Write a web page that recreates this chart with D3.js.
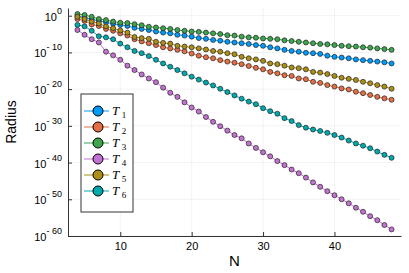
<!DOCTYPE html>
<html>
<head>
<meta charset="utf-8">
<script src="https://cdn.jsdelivr.net/npm/d3@7"></script>
<style>
  body { margin: 0; background: #fff; }
  svg { display: block; font-family: "Liberation Sans", Arial, sans-serif; }
</style>
</head>
<body>
<svg width="409" height="273"></svg>
<script>
// N values and log10(radius) for each series
const N = [4,5,6,7,8,9,10,11,12,13,14,15,16,17,18,19,20,21,22,23,24,25,26,27,28,29,30,
  31,32,33,34,35,36,37,38,39,40,41,42,43,44,45,46,47,48]
const T1 = [-0.1,-0.5,-1.0,-1.4,-1.8,-2.2,-2.5,-2.8,-3.3,-3.6,-3.9,-4.3,-4.6,-4.8,-5.2,-5.4,-5.7,
  -6.1,-6.3,-6.6,-6.8,-7.1,-7.3,-7.5,-7.7,-8.0,-8.2,-8.6,-8.9,-9.3,-9.6,-9.8,-10.1,-10.2,-10.4,
  -10.9,-11.2,-11.4,-11.6,-11.9,-12.1,-12.3,-12.5,-12.7,-13.0]
const T2 = [-0.9,-1.4,-2.4,-2.8,-3.6,-4.1,-4.8,-5.4,-6.4,-7.0,-7.5,-8.0,-8.6,-8.9,-9.3,-9.7,-10.3,
  -10.9,-11.3,-11.6,-12.1,-12.5,-12.8,-13.2,-13.7,-14.2,-14.6,-15.3,-15.7,-16.2,-16.4,-17.1,-17.3,
  -18.0,-18.3,-18.9,-19.3,-19.8,-20.1,-20.7,-21.1,-21.6,-22.1,-22.5,-22.9]
const T3 = [0.45,0.2,-0.3,-0.9,-1.2,-1.6,-1.9,-2.0,-2.3,-2.6,-3.0,-3.2,-3.4,-3.6,-3.9,-4.1,-4.3,
  -4.4,-4.6,-4.8,-5.0,-5.3,-5.4,-5.7,-5.9,-6.0,-6.2,-6.3,-6.4,-6.7,-6.9,-7.1,-7.3,-7.5,-7.7,
  -7.8,-8.0,-8.2,-8.3,-8.4,-8.6,-8.7,-8.9,-9.1,-9.3]
const T4 = [-3.9,-5.2,-6.4,-7.3,-9.8,-10.8,-12.0,-13.6,-14.8,-16.0,-17.1,-18.1,-19.6,-21.0,-22.1,
  -23.6,-25.0,-26.1,-27.6,-28.9,-30.1,-31.3,-32.5,-33.4,-34.8,-36.0,-37.2,-38.3,-39.6,-40.7,
  -41.9,-42.9,-44.1,-45.4,-46.6,-47.8,-48.9,-50.0,-51.1,-52.3,-53.4,-54.6,-55.7,-57.0,-58.2]
const T5 = [-0.3,-0.9,-1.6,-2.1,-2.9,-3.4,-4.0,-4.6,-5.8,-6.1,-6.3,-7.1,-7.4,-7.6,-8.2,-8.4,-8.6,
  -8.9,-9.2,-9.6,-9.8,-10.2,-10.5,-11.2,-11.6,-11.9,-12.3,-13.0,-13.2,-13.6,-14.1,-14.3,-14.6,
  -15.3,-15.5,-15.9,-16.4,-16.9,-17.2,-17.5,-18.0,-18.4,-18.9,-19.3,-19.9]
const T6 = [-2.5,-2.9,-4.1,-5.6,-5.9,-6.4,-7.6,-8.6,-9.6,-10.2,-11.0,-12.0,-13.0,-13.9,-14.8,-15.7,
  -16.6,-17.4,-18.2,-19.0,-19.9,-20.8,-21.7,-22.6,-23.4,-24.1,-25.2,-26.0,-26.7,-27.9,-28.7,
  -29.8,-30.5,-31.0,-31.4,-31.9,-32.5,-33.2,-34.0,-34.8,-35.4,-36.1,-37.0,-37.9,-38.7]
const seriesNames = ["1","2","3","4","5","6"]
const seriesValues = [T1, T2, T3, T4, T5, T6]
const colors = ["#009AFA","#E36F47","#3EA44E","#C371D2","#AC8E18","#00A9AD"]
const xTicks = [10, 20, 30, 40]
const yTickExps = [0, -10, -20, -30, -40, -50, -60]

const svg = d3.select("svg")
const margin = {top: 8, right: 8, bottom: 37, left: 68}
const width = +svg.attr("width")
const height = +svg.attr("height")
const innerWidth = width - margin.left - margin.right
const innerHeight = height - margin.top - margin.bottom

const xScale = d3.scaleLinear()
  .domain([2.68, 49.32])
  .range([0, innerWidth])

const yScale = d3.scaleLog()
  .domain([1e-60, Math.pow(10, 2.1)])
  .range([innerHeight, 0])

const g = svg.append("g")
  .attr("transform", `translate(${margin.left}, ${margin.top})`)

// grid
g.append("g").selectAll("line").data(xTicks)
  .enter().append("line")
  .attr("x1", d => xScale(d)).attr("x2", d => xScale(d))
  .attr("y1", 0).attr("y2", innerHeight)
  .attr("stroke", "#000").attr("stroke-opacity", 0.1).attr("stroke-width", 0.5)
g.append("g").selectAll("line").data(yTickExps)
  .enter().append("line")
  .attr("x1", 0).attr("x2", innerWidth)
  .attr("y1", d => yScale(Math.pow(10, d))).attr("y2", d => yScale(Math.pow(10, d)))
  .attr("stroke", "#000").attr("stroke-opacity", 0.1).attr("stroke-width", 0.5)

// axes
const xAxis = d3.axisBottom(xScale)
  .tickValues(xTicks)
  .tickSize(-4)
  .tickPadding(6)
  .tickSizeOuter(0)
const xAxisG = g.append("g")
  .attr("transform", `translate(0, ${innerHeight})`)
  .call(xAxis)
xAxisG.selectAll("text")
  .attr("font-size", 11).attr("fill", "#000")
  .attr("font-family", "Liberation Sans, Arial, sans-serif")
xAxisG.selectAll("line, path").attr("stroke", "#333").attr("stroke-width", 1)

const yAxis = d3.axisLeft(yScale)
  .tickValues(yTickExps.map(e => Math.pow(10, e)))
  .tickSize(-4)
  .tickSizeOuter(0)
  .tickFormat(() => "")
const yAxisG = g.append("g").call(yAxis)
yAxisG.selectAll("line, path").attr("stroke", "#333").attr("stroke-width", 1)
yAxisG.selectAll(".tick text").remove()

// y tick labels: "10" with a raised exponent
const yLabels = g.append("g")
yTickExps.forEach(e => {
  const y = yScale(Math.pow(10, e))
  const t = yLabels.append("text")
    .attr("x", -6).attr("y", y + 5)
    .attr("text-anchor", "end")
    .attr("font-size", 11)
  t.append("tspan").text("10")
  t.append("tspan").attr("font-size", 9).attr("dy", -7)
    .text(e === 0 ? "0" : "- " + (-e))
})

// axis labels
g.append("text")
  .text("N")
  .attr("x", innerWidth / 2)
  .attr("y", innerHeight + 30)
  .attr("text-anchor", "middle")
  .attr("font-size", 15)
g.append("text")
  .text("Radius")
  .attr("transform", `translate(${-52}, ${innerHeight / 2}) rotate(-90)`)
  .attr("text-anchor", "middle")
  .attr("font-size", 14)

// series
const line = d3.line()
  .x((d, i) => xScale(N[i]))
  .y(d => yScale(Math.pow(10, d)))

seriesValues.forEach((vals, k) => {
  const sg = g.append("g")
  sg.append("path")
    .attr("d", line(vals))
    .attr("fill", "none")
    .attr("stroke", colors[k])
    .attr("stroke-width", 1)
  sg.selectAll("circle").data(vals)
    .enter().append("circle")
    .attr("cx", (d, i) => xScale(N[i]))
    .attr("cy", d => yScale(Math.pow(10, d)))
    .attr("r", 2.5)
    .attr("fill", colors[k])
    .attr("stroke", "#222")
    .attr("stroke-width", 0.7)
})

// legend
const legend = svg.append("g").attr("transform", "translate(81, 94)")
legend.append("rect")
  .attr("x", 0).attr("y", 0)
  .attr("width", 52).attr("height", 118)
  .attr("fill", "#fff").attr("stroke", "#333").attr("stroke-width", 1)
seriesNames.forEach((name, k) => {
  const y = 17 + k * 16
  const row = legend.append("g")
  row.append("line")
    .attr("x1", 3).attr("x2", 28).attr("y1", y).attr("y2", y)
    .attr("stroke", colors[k]).attr("stroke-width", 1)
  row.append("circle")
    .attr("cx", 17).attr("cy", y).attr("r", 5)
    .attr("fill", colors[k]).attr("stroke", "#000").attr("stroke-width", 1)
  const t = row.append("text")
    .attr("x", 31).attr("y", y + 4)
    .attr("font-family", "Liberation Serif, serif")
    .attr("font-size", 13)
  t.append("tspan").attr("font-style", "italic").text("T\u2009")
  t.append("tspan").attr("font-size", 9).attr("dy", 3).text(name)
})
</script>
</body>
</html>
